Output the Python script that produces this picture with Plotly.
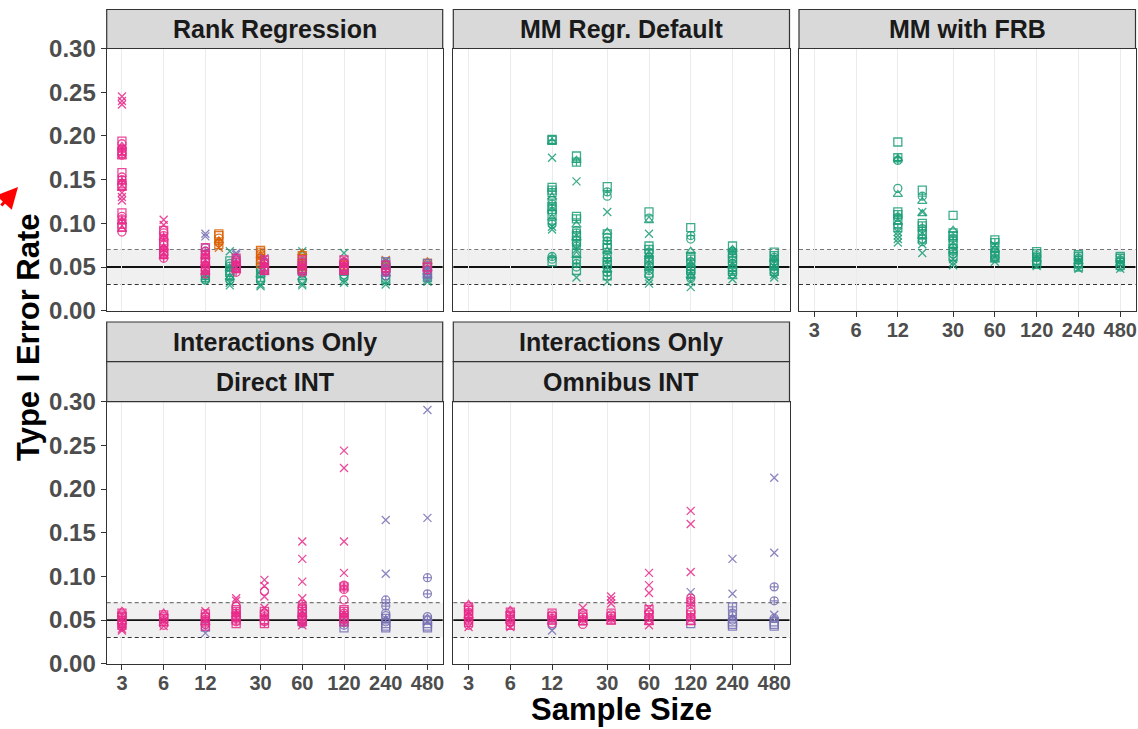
import math
import plotly.graph_objects as go

# ---------------- data ----------------
tick_vals = [3, 6, 12, 30, 60, 120, 240, 480]
tick_text = ["3", "6", "12", "30", "60", "120", "240", "480"]
y_tick_vals = [0.00, 0.05, 0.10, 0.15, 0.20, 0.25, 0.30]
y_tick_text = ["0.00", "0.05", "0.10", "0.15", "0.20", "0.25", "0.30"]

panel_titles = ["Rank Regression", "MM Regr. Default", "MM with FRB", "Direct INT", "Omnibus INT"]
group_title = "Interactions Only"
x_title = "Sample Size"
y_title = "Type I Error Rate"

nominal_rate = 0.05
band_low, band_high = 0.03, 0.07

# clusters: (sample size, rates, shape codes)
# shape codes: s square, o circle, t triangle, x cross, c circle-plus, q square-plus
rank_pink = [
    (3, [0.245, 0.240, 0.236, 0.194, 0.191, 0.188, 0.185, 0.183, 0.180, 0.178, 0.176,
         0.158, 0.153, 0.150, 0.147, 0.145, 0.143, 0.140, 0.135, 0.130, 0.126,
         0.112, 0.108, 0.105, 0.102, 0.099, 0.096, 0.093, 0.090],
     "xxx" "sotcqsct" "soctqst" "xxx" "soctqsto"),
    (6, [0.104, 0.098, 0.092, 0.089, 0.086, 0.083, 0.080, 0.078, 0.075, 0.072, 0.070,
         0.068, 0.066, 0.064, 0.062, 0.060], "xxsoctqsotcqsotc"),
    (12, [0.072, 0.068, 0.065, 0.062, 0.060, 0.058, 0.056, 0.054, 0.052, 0.050, 0.048,
          0.046, 0.044, 0.042], "soctqsotcqsotc"),
    (20, [0.060, 0.058, 0.056, 0.054, 0.052, 0.050, 0.048, 0.046, 0.044], "soctqsotc"),
    (32, [0.058, 0.056, 0.054, 0.052, 0.050, 0.048, 0.046, 0.044], "soctqsot"),
    (60, [0.058, 0.055, 0.052, 0.050, 0.048, 0.046, 0.044], "soctqso"),
    (120, [0.058, 0.056, 0.054, 0.052, 0.050, 0.048, 0.046, 0.044], "soctqsot"),
    (240, [0.052, 0.048, 0.045], "soc"),
    (480, [0.050, 0.047], "so"),
]
rank_purple = [
    (12, [0.088, 0.085, 0.072, 0.068, 0.064], "xxocs"),
    (20, [0.066, 0.064, 0.060, 0.055, 0.050], "xxocs"),
    (32, [0.060, 0.055, 0.050, 0.046], "xocs"),
    (60, [0.056, 0.052, 0.048, 0.045], "ocsx"),
    (120, [0.055, 0.050, 0.046], "ocs"),
    (240, [0.056, 0.054, 0.052, 0.050, 0.048, 0.046, 0.044, 0.042, 0.040], "soctqsotc"),
    (480, [0.054, 0.052, 0.050, 0.048, 0.046, 0.044, 0.042, 0.040, 0.038], "soctqsotc"),
]
rank_orange = [
    (15, [0.088, 0.086, 0.083, 0.080, 0.078, 0.076, 0.072], "ssotcqx"),
    (30, [0.069, 0.067, 0.065, 0.063, 0.060, 0.057, 0.054], "sqotcsq"),
    (60, [0.066, 0.063, 0.060, 0.057, 0.054, 0.051, 0.048], "tsocqst"),
    (120, [0.056, 0.052, 0.048], "tso"),
    (240, [0.058, 0.053, 0.049, 0.045], "xtso"),
    (480, [0.056, 0.054, 0.050, 0.046], "tsoc"),
]
rank_green = [
    (12, [0.042, 0.040, 0.038, 0.036, 0.035], "oosco"),
    (18, [0.068, 0.057, 0.054, 0.051, 0.048, 0.046, 0.044, 0.041, 0.038, 0.035, 0.032, 0.029],
     "xsoctqsotcxx"),
    (30, [0.050, 0.047, 0.044, 0.041, 0.038, 0.034, 0.030, 0.028], "soctqoxx"),
    (60, [0.068, 0.046, 0.042, 0.038, 0.035, 0.031, 0.029], "xsotoxx"),
    (120, [0.066, 0.045, 0.041, 0.038, 0.035, 0.032], "xsooxx"),
    (240, [0.057, 0.054, 0.040, 0.036, 0.033, 0.030], "xoosxx"),
    (480, [0.042, 0.038, 0.035, 0.033], "osxx"),
]

mm_default_green = [
    (12, [0.196, 0.195, 0.193, 0.175, 0.141, 0.138, 0.135, 0.130, 0.126, 0.122, 0.119,
          0.116, 0.113, 0.110, 0.106, 0.102, 0.099, 0.096, 0.093, 0.062, 0.059, 0.056],
     "sqtx" "sqstocsqostocxx" "cos"),
    (18, [0.177, 0.172, 0.170, 0.148, 0.108, 0.105, 0.098, 0.092, 0.089, 0.086, 0.083,
          0.080, 0.077, 0.074, 0.070, 0.066, 0.063, 0.058, 0.054, 0.050, 0.046, 0.038],
     "stqx" "sqtocstqocx" "stocosx"),
    (30, [0.142, 0.136, 0.131, 0.113, 0.090, 0.088, 0.084, 0.080, 0.076, 0.072, 0.068,
          0.064, 0.060, 0.056, 0.053, 0.050, 0.047, 0.044, 0.040, 0.033],
     "scox" "tsocqstocqsotcqx"),
    (60, [0.113, 0.106, 0.103, 0.088, 0.074, 0.070, 0.067, 0.064, 0.061, 0.058, 0.055,
          0.052, 0.049, 0.046, 0.043, 0.040, 0.035, 0.031],
     "sotx" "sqotcsqotcsoxx"),
    (120, [0.095, 0.086, 0.082, 0.068, 0.062, 0.059, 0.056, 0.053, 0.050, 0.048, 0.046,
           0.043, 0.040, 0.037, 0.033, 0.027],
     "scot" "sqotcsqotcxx"),
    (240, [0.074, 0.070, 0.068, 0.066, 0.063, 0.060, 0.057, 0.054, 0.051, 0.049, 0.047,
           0.045, 0.042, 0.039, 0.036], "stcqosqotcsqotx"),
    (480, [0.067, 0.063, 0.061, 0.059, 0.057, 0.055, 0.053, 0.051, 0.049, 0.047, 0.045,
           0.043, 0.041, 0.038], "sqotcsqotcsoxx"),
]

mm_frb_green = [
    (12, [0.193, 0.175, 0.174, 0.172, 0.140, 0.133, 0.113, 0.110, 0.107, 0.104, 0.101,
          0.098, 0.095, 0.090, 0.086, 0.082, 0.078], "sqtc" "ot" "sqcstoq" "xxxx"),
    (18, [0.138, 0.131, 0.125, 0.113, 0.111, 0.100, 0.097, 0.094, 0.091, 0.088, 0.085,
          0.082, 0.079, 0.076, 0.066], "sctxt" "sqocstqox" "x"),
    (30, [0.109, 0.092, 0.089, 0.086, 0.083, 0.080, 0.077, 0.074, 0.071, 0.068, 0.065,
          0.062, 0.059, 0.055, 0.052], "st" "sqocstqocs" "xxx"),
    (60, [0.081, 0.078, 0.075, 0.072, 0.070, 0.067, 0.065, 0.062, 0.060, 0.058, 0.056],
     "sqxotcsqotx"),
    (120, [0.0675, 0.065, 0.063, 0.061, 0.059, 0.057, 0.055, 0.053, 0.051], "sqoctsoqx"),
    (240, [0.064, 0.062, 0.060, 0.058, 0.056, 0.054, 0.052, 0.050, 0.048], "sqoctsoqx"),
    (480, [0.062, 0.060, 0.058, 0.056, 0.054, 0.052, 0.050, 0.048], "sqoctsox"),
]

direct_pink = [
    (3, [0.060, 0.058, 0.056, 0.054, 0.052, 0.050, 0.048, 0.046, 0.044, 0.042, 0.040, 0.038],
     "tsoqcstoqcxx"),
    (6, [0.058, 0.056, 0.054, 0.052, 0.050, 0.048, 0.046, 0.044, 0.043], "tsoqcstox"),
    (12, [0.060, 0.057, 0.055, 0.053, 0.051, 0.049, 0.047, 0.045, 0.043], "xsoqcstoq"),
    (20, [0.075, 0.072, 0.066, 0.062, 0.060, 0.058, 0.056, 0.054, 0.052, 0.050, 0.048, 0.046],
     "xxosqctsoqcs"),
    (32, [0.096, 0.089, 0.083, 0.077, 0.064, 0.060, 0.058, 0.056, 0.054, 0.052, 0.050, 0.048,
          0.046], "xxoxxsoqctsoq"),
    (60, [0.140, 0.120, 0.094, 0.075, 0.068, 0.065, 0.062, 0.060, 0.058, 0.056, 0.054, 0.052,
          0.050, 0.048, 0.046, 0.044], "xxxx" "co" "qsotcsqotx"),
    (120, [0.244, 0.224, 0.140, 0.104, 0.090, 0.088, 0.085, 0.073, 0.062, 0.060, 0.058, 0.056,
           0.054, 0.052, 0.050, 0.048], "xxxx" "cqc" "o" "sqotcsoq"),
]
direct_purple = [
    (12, [0.045, 0.042, 0.035], "osx"),
    (60, [0.055, 0.050, 0.046], "osc"),
    (120, [0.047, 0.044, 0.041], "ocs"),
    (240, [0.1645, 0.103, 0.073, 0.066, 0.058, 0.055, 0.052, 0.050, 0.048, 0.046, 0.043, 0.041],
     "xxcc" "oo" "qtosss"),
    (480, [0.2905, 0.167, 0.0985, 0.080, 0.054, 0.052, 0.050, 0.048, 0.046, 0.043, 0.041],
     "xxcc" "otqxsss"),
]

omnibus_pink = [
    (3, [0.068, 0.065, 0.063, 0.061, 0.059, 0.057, 0.055, 0.053, 0.051, 0.049, 0.047, 0.044,
         0.042], "tsoqcstoqcsox"),
    (6, [0.061, 0.059, 0.057, 0.055, 0.053, 0.051, 0.049, 0.047, 0.044, 0.042], "tsoqcstoqx"),
    (12, [0.058, 0.056, 0.054, 0.052, 0.050, 0.048, 0.046], "soqcsto"),
    (20, [0.064, 0.057, 0.055, 0.053, 0.051, 0.049, 0.047, 0.045], "xsoqcsto"),
    (32, [0.077, 0.073, 0.069, 0.058, 0.056, 0.054, 0.052, 0.050, 0.048], "xxxsoqcst"),
    (60, [0.104, 0.090, 0.081, 0.064, 0.062, 0.059, 0.056, 0.053, 0.050, 0.047, 0.044],
     "xxxxsoqcstx"),
    (120, [0.175, 0.160, 0.105, 0.075, 0.072, 0.069, 0.062, 0.059, 0.056, 0.053, 0.050, 0.047],
     "xxx" "coc" "soqcst"),
]
omnibus_purple = [
    (12, [0.044, 0.038], "ox"),
    (120, [0.082, 0.046], "xs"),
    (240, [0.120, 0.080, 0.065, 0.058, 0.055, 0.052, 0.050, 0.048, 0.045, 0.043],
     "xxqo" "ctosss"),
    (480, [0.213, 0.127, 0.088, 0.072, 0.056, 0.052, 0.050, 0.048, 0.045, 0.043],
     "xxcc" "xotsss"),
]

# ---------------- styling ----------------
COL = {"green": "#1B9E77", "orange": "#D95F02", "purple": "#7570B3", "pink": "#E7298A"}
SYM = {"s": "square-open", "o": "circle-open", "t": "triangle-up-open",
       "x": "x-thin-open", "c": "circle-cross-open", "q": "square-cross-open"}

panels = [
    [("green", rank_green), ("orange", rank_orange), ("purple", rank_purple), ("pink", rank_pink)],
    [("green", mm_default_green)],
    [("green", mm_frb_green)],
    [("purple", direct_purple), ("pink", direct_pink)],
    [("purple", omnibus_purple), ("pink", omnibus_pink)],
]

W, H = 1138, 729
def px(v):
    return v / W
def py(v):
    return 1 - v / H

def ax_id(i):
    return "" if i == 1 else str(i)

x_dom = {1: (106.7, 442.7), 2: (453.3, 789.5), 3: (799.0, 1135.5), 4: (106.7, 442.7), 5: (453.3, 789.5)}
y_dom = {1: (48.5, 310.7), 2: (48.5, 310.7), 3: (48.5, 310.7), 4: (401.7, 663.7), 5: (401.7, 663.7)}

fig = go.Figure()

for i, series in enumerate(panels, start=1):
    for cname, clusters in series:
        xs, ys, syms = [], [], []
        for n, rates, shapes in clusters:
            for r, s in zip(rates, shapes):
                xs.append(n)
                ys.append(r)
                syms.append(SYM[s])
        fig.add_trace(go.Scatter(
            x=xs, y=ys, mode="markers", xaxis="x" + ax_id(i), yaxis="y" + ax_id(i),
            marker=dict(symbol=syms, size=8, color=COL[cname], opacity=0.85,
                        line=dict(width=1.3, color=COL[cname])),
            showlegend=False, hoverinfo="x+y"))

xr = [math.log10(3) - 0.11, math.log10(480) + 0.11]
tick_font = dict(family="Liberation Sans, Arial", size=20, color="#4D4D4D", weight="bold")
ytick_font = dict(family="Liberation Sans, Arial", size=24, color="#4D4D4D", weight="bold")

layout = dict(width=W, height=H, autosize=False, margin=dict(l=0, r=0, t=0, b=0, pad=0, autoexpand=False),
              paper_bgcolor="white", plot_bgcolor="white", showlegend=False)
for i in range(1, 6):
    bottom = i in (3, 4, 5)
    left = i in (1, 4)
    x0, x1 = x_dom[i]
    y0, y1 = y_dom[i]
    layout["xaxis" + ax_id(i)] = dict(
        type="log", range=xr, domain=[px(x0), px(x1)], anchor="y" + ax_id(i),
        tickvals=tick_vals, ticktext=tick_text, showticklabels=bottom,
        ticks="outside" if bottom else "", ticklen=5, tickwidth=1.2, tickcolor="#333333",
        ticklabelstandoff=-4,
        showgrid=True, gridcolor="#EBEBEB", gridwidth=1.2, zeroline=False,
        showline=True, mirror=True, linecolor="#333333", linewidth=1.2,
        tickfont=tick_font, fixedrange=True, automargin=False)
    layout["yaxis" + ax_id(i)] = dict(
        range=[0, 0.30], domain=[py(y1), py(y0)], anchor="x" + ax_id(i),
        tickvals=y_tick_vals, ticktext=y_tick_text, showticklabels=left,
        ticks="outside" if left else "", ticklen=5, tickwidth=1.2, tickcolor="#333333",
        showgrid=False, zeroline=False,
        showline=True, mirror=True, linecolor="#333333", linewidth=1.2,
        tickfont=ytick_font, fixedrange=True, automargin=False)
fig.update_layout(**layout)

shapes = []
for i in range(1, 6):
    xref = "x" + ax_id(i) + " domain"
    yref = "y" + ax_id(i)
    shapes.append(dict(type="rect", xref=xref, yref=yref, x0=0, x1=1, y0=band_low, y1=band_high,
                       fillcolor="#F0F0F0", line=dict(width=0), layer="below"))
    shapes.append(dict(type="line", xref=xref, yref=yref, x0=0, x1=1, y0=band_high, y1=band_high,
                       line=dict(color="#777777", width=1.2, dash="4px,3px"), layer="below"))
    shapes.append(dict(type="line", xref=xref, yref=yref, x0=0, x1=1, y0=band_low, y1=band_low,
                       line=dict(color="#333333", width=1.2, dash="4px,3px"), layer="below"))
    shapes.append(dict(type="line", xref=xref, yref=yref, x0=0, x1=1, y0=nominal_rate, y1=nominal_rate,
                       line=dict(color="#111111", width=1.8), layer="below"))

annotations = []
strip_font = dict(family="Liberation Sans, Arial", size=25, color="#1A1A1A")

def strip(i, top, bottom, text):
    x0, x1 = x_dom[i]
    shapes.append(dict(type="rect", xref="paper", yref="paper", x0=px(x0), x1=px(x1),
                       y0=py(bottom), y1=py(top), fillcolor="#D9D9D9",
                       line=dict(color="#333333", width=1.2)))
    annotations.append(dict(xref="paper", yref="paper", x=px((x0 + x1) / 2), y=py((top + bottom) / 2),
                            text=f"<b>{text}</b>", showarrow=False, font=strip_font,
                            xanchor="center", yanchor="middle"))

strip(1, 9.5, 48.5, panel_titles[0])
strip(2, 9.5, 48.5, panel_titles[1])
strip(3, 9.5, 48.5, panel_titles[2])
strip(4, 322.0, 361.7, group_title)
strip(4, 361.7, 401.7, panel_titles[3])
strip(5, 322.0, 361.7, group_title)
strip(5, 361.7, 401.7, panel_titles[4])

title_font = dict(family="Liberation Sans, Arial", size=31, color="#000000")
annotations.append(dict(xref="paper", yref="paper", x=px(621), y=py(709), text=f"<b>{x_title}</b>",
                        showarrow=False, font=title_font, xanchor="center", yanchor="middle"))
annotations.append(dict(xref="paper", yref="paper", x=px(28), y=py(337), text=f"<b>{y_title}</b>",
                        showarrow=False, font=title_font, textangle=-90,
                        xanchor="center", yanchor="middle"))
# small red arrow marker at the left edge
annotations.append(dict(xref="paper", yref="paper", x=px(18), y=py(187), text="",
                        showarrow=True, arrowhead=2, arrowsize=1.4, arrowwidth=3,
                        arrowcolor="#FF0000", ax=-26, ay=20))

fig.update_layout(shapes=shapes, annotations=annotations)
fig.write_html("out.html", config={"displayModeBar": False},
               post_script="document.body.style.margin='0';document.body.style.overflow='hidden';")
